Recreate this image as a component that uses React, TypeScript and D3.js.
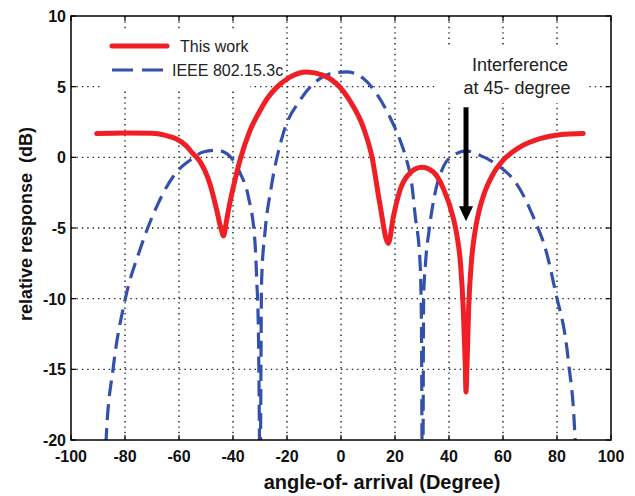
import React from 'react';
import * as d3 from 'd3';

const xTicks = [-100, -80, -60, -40, -20, 0, 20, 40, 60, 80, 100];
const yTicks = [10, 5, 0, -5, -10, -15, -20];

// "This work" (red, solid)
const redAngle = [-90.5, -80, -70, -65, -60.9, -57.5, -55, -52.2, -48.5, -46, -44.5, -43.5, -42.5, -41.7, -39.3, -37.4, -33.7, -30, -27, -23.8, -18.9, -12.7, -6.5, -1.6, 3.3, 8.3, 11.5, 14.4, 17.5, 19.4, 21.9, 25.6, 29.9, 34.2, 37.9, 41.6, 43, 44.3, 45.3, 46, 46.3, 46.7, 47.3, 48.3, 49.6, 51, 52.7, 56.4, 60.1, 66.3, 73.7, 81.1, 89.7];
const redDb = [1.68, 1.72, 1.7, 1.55, 1.3, 0.85, 0.3, -0.3, -1.9, -3.75, -5.0, -5.55, -4.6, -3.75, -1.63, -0.2, 1.9, 3.3, 4.25, 4.95, 5.68, 6.04, 5.8, 5.2, 4.0, 2.1, 0, -3.3, -6.1, -4.2, -2.3, -1.1, -0.7, -1.04, -2.2, -4.3, -5.6, -7.6, -10.8, -14.5, -16.6, -14.5, -10.6, -7.4, -5.3, -3.9, -2.75, -1.16, -0.2, 0.73, 1.32, 1.6, 1.68];

// "IEEE 802.15.3c" (blue, dashed)
const blueAngle = [-87.3, -87, -84.3, -80, -74.4, -68.3, -60.9, -55.9, -51, -46, -42.3, -37.4, -34.3, -31.9, -31.2, -30.6, -30.2, -30, -29.8, -29.4, -28.1, -26, -21.4, -15.2, -7.8, -2.8, 2.1, 8.3, 13.2, 18.1, 21.9, 24.3, 26.2, 27.4, 29.3, 29.8, 30, 30.2, 30.4, 30.6, 31.3, 32.6, 34.8, 37.9, 41.6, 46.5, 51.5, 58.9, 65, 71.2, 76.2, 79.3, 84.2, 86.7, 87];
const blueDb = [-22, -20, -14.8, -10.1, -6.5, -3.5, -1.04, -0.2, 0.38, 0.5, 0.26, -1.1, -2.8, -5.9, -8.7, -12.2, -20, -26, -20, -8.7, -5.2, -2.3, 1.68, 4.03, 5.57, 5.97, 6.04, 5.57, 4.5, 2.85, 1.2, -0.2, -1.86, -4.0, -7.5, -12, -20, -26, -20, -10, -7.5, -5.2, -2.57, -0.68, 0.14, 0.45, 0.14, -0.68, -1.86, -4.2, -6.8, -9.4, -14.4, -20, -22];

const legendLabels = ['This work', 'IEEE 802.15.3c'];
const noteLines = ['Interference', 'at 45- degree'];

const W = 635, H = 496;
const L = 71, R = 611, T = 16, B = 440;
const FONT = "'Liberation Sans', Arial, Helvetica, sans-serif";
const RED = '#f01f26';
const BLUE = '#3350ad';

export default function App() {
  const x = d3.scaleLinear().domain([-100, 100]).range([L, R]);
  const y = d3.scaleLinear().domain([-20, 10]).range([B, T]);
  const line = d3.line<[number, number]>().x(d => x(d[0])).y(d => y(d[1])).curve(d3.curveMonotoneX);
  const redPath = line(redAngle.map((a, i) => [a, redDb[i]]) as [number, number][]) || '';
  const bluePath = line(blueAngle.map((a, i) => [a, blueDb[i]]) as [number, number][]) || '';
  const arrowX = x(46.3);
  const arrowTop = y(3.54);
  const arrowTip = y(-4.53);

  return (
    <svg width={W} height={H} style={{ position: 'absolute', left: 0, top: 0, background: '#fff' }} fontFamily={FONT}>
      <defs>
        <clipPath id="plotclip">
          <rect x={L} y={T} width={R - L} height={B - T} />
        </clipPath>
      </defs>
      <rect x={0} y={0} width={W} height={H} fill="#fff" />
      {/* grid */}
      {xTicks.slice(1, -1).map(t => (
        <line key={'gx' + t} x1={x(t)} x2={x(t)} y1={T} y2={B} stroke="#222" strokeWidth={1.4} strokeDasharray="1.4,4" />
      ))}
      {yTicks.slice(1, -1).map(t => (
        <line key={'gy' + t} x1={L} x2={R} y1={y(t)} y2={y(t)} stroke="#222" strokeWidth={1.4} strokeDasharray="1.4,4" />
      ))}
      {/* legend & annotation backgrounds */}
      <rect x={103} y={32} width={147} height={58} fill="#fff" />
      <rect x={437} y={47} width={150} height={56} fill="#fff" />
      {/* ticks */}
      {xTicks.map(t => (
        <g key={'tx' + t}>
          <line x1={x(t)} x2={x(t)} y1={B} y2={B - 5} stroke="#000" strokeWidth={1.2} />
          <line x1={x(t)} x2={x(t)} y1={T} y2={T + 5} stroke="#000" strokeWidth={1.2} />
          <text x={x(t)} y={462} textAnchor="middle" fontSize={16} fontWeight="bold" fill="#111">{t}</text>
        </g>
      ))}
      {yTicks.map(t => (
        <g key={'ty' + t}>
          <line x1={L} x2={L + 5} y1={y(t)} y2={y(t)} stroke="#000" strokeWidth={1.2} />
          <line x1={R} x2={R - 5} y1={y(t)} y2={y(t)} stroke="#000" strokeWidth={1.2} />
          <text x={66} y={y(t) + 6} textAnchor="end" fontSize={16} fontWeight="bold" fill="#111">{t}</text>
        </g>
      ))}
      {/* curves */}
      <g clipPath="url(#plotclip)">
        <path d={bluePath} fill="none" stroke={BLUE} strokeWidth={3.2} strokeDasharray="16,8" />
        <path d={redPath} fill="none" stroke={RED} strokeWidth={5} strokeLinejoin="round" strokeLinecap="round" />
      </g>
      {/* frame */}
      <rect x={L} y={T} width={R - L} height={B - T} fill="none" stroke="#000" strokeWidth={1.5} />
      {/* legend */}
      <line x1={112} x2={167} y1={46} y2={46} stroke={RED} strokeWidth={5} strokeLinecap="round" />
      <text x={180} y={52} fontSize={16} fill="#222">{legendLabels[0]}</text>
      <line x1={112} x2={164} y1={70} y2={70} stroke={BLUE} strokeWidth={3.2} strokeDasharray="21,9" />
      <text x={172} y={76} fontSize={16} fill="#222">{legendLabels[1]}</text>
      {/* annotation */}
      <text x={520} y={71} textAnchor="middle" fontSize={18} fill="#222">{noteLines[0]}</text>
      <text x={517} y={94} textAnchor="middle" fontSize={18} fill="#222">{noteLines[1]}</text>
      <line x1={arrowX} x2={arrowX} y1={arrowTop} y2={arrowTip - 12} stroke="#000" strokeWidth={5} />
      <path d={`M${arrowX - 7},${arrowTip - 15} L${arrowX + 7},${arrowTip - 15} L${arrowX},${arrowTip} Z`} fill="#000" />
      {/* axis labels */}
      <text x={382} y={489} textAnchor="middle" fontSize={20} fontWeight="bold" fill="#111">angle-of- arrival (Degree)</text>
      <text transform={`translate(32,224) rotate(-90)`} textAnchor="middle" fontSize={18} fontWeight="bold" fill="#111" style={{ whiteSpace: 'pre' }}>{'relative response  (dB)'}</text>
    </svg>
  );
}
